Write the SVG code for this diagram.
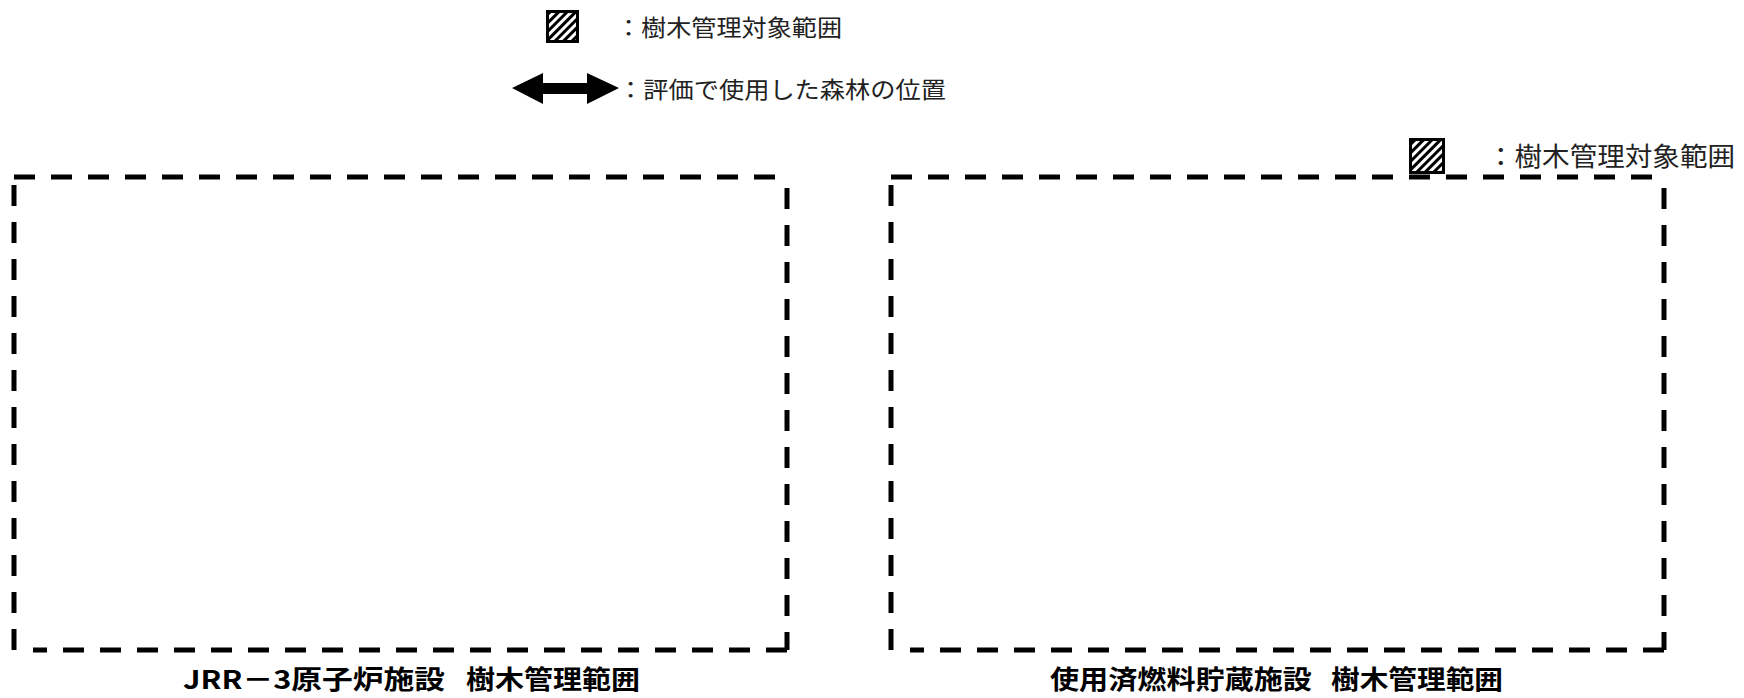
<svg xmlns="http://www.w3.org/2000/svg" width="1744" height="698" viewBox="0 0 1744 698">
<style>
.leg{font-family:"Noto Sans CJK JP","Noto Sans",sans-serif;fill:#222;}
.lab{font-family:"Noto Sans CJK JP","Noto Sans",sans-serif;font-weight:bold;fill:#000;font-size:26px;}
.dash{fill:none;stroke:#000;stroke-width:5;stroke-dasharray:21 16;}
.hatchbox{fill:url(#hatch);stroke:#000;stroke-width:3;}
</style>
<defs>
<pattern id="hatch" patternUnits="userSpaceOnUse" width="6" height="6" patternTransform="rotate(45)">
<rect x="0" y="0" width="6" height="6" fill="#fff"/>
<rect x="0" y="0" width="3" height="6" fill="#000"/>
</pattern>
</defs>
<g id="legend">
<rect class="hatchbox" x="547.5" y="11.5" width="30" height="30"/>
<text class="leg" x="616" y="36" font-size="23" textLength="226" lengthAdjust="spacingAndGlyphs">：樹木管理対象範囲</text>
<polygon points="512,88 543,73 543,83 587,83 587,73 619,88 587,104 587,94 543,94 543,104" fill="#000"/>
<text class="leg" x="618" y="98" font-size="23" textLength="328" lengthAdjust="spacingAndGlyphs">：評価で使用した森林の位置</text>
</g>
<g id="connectors">
</g>
<g id="jrr3">
<path class="dash" d="M14,177 H787"/>
<path class="dash" d="M14,185 V653"/>
<path class="dash" d="M787,188 V650"/>
<path class="dash" d="M787,650 H33"/>
<text class="lab" y="689"><tspan x="183" textLength="262" lengthAdjust="spacingAndGlyphs">JRR－3原子炉施設</tspan> <tspan x="466" textLength="174" lengthAdjust="spacingAndGlyphs">樹木管理範囲</tspan></text>
</g>
<g id="spent-fuel">
<path class="dash" d="M891,177 H1664"/>
<path class="dash" d="M891,185 V653"/>
<path class="dash" d="M1664,188 V650"/>
<path class="dash" d="M1664,650 H910"/>
<text class="lab" y="689"><tspan x="1050" textLength="262" lengthAdjust="spacingAndGlyphs">使用済燃料貯蔵施設</tspan> <tspan x="1331" textLength="172" lengthAdjust="spacingAndGlyphs">樹木管理範囲</tspan></text>
</g>
<g id="legend-right">
<rect class="hatchbox" x="1410.5" y="139.5" width="33" height="33"/>
<text class="leg" x="1487" y="166" font-size="26" textLength="248" lengthAdjust="spacingAndGlyphs">：樹木管理対象範囲</text>
</g>
</svg>
